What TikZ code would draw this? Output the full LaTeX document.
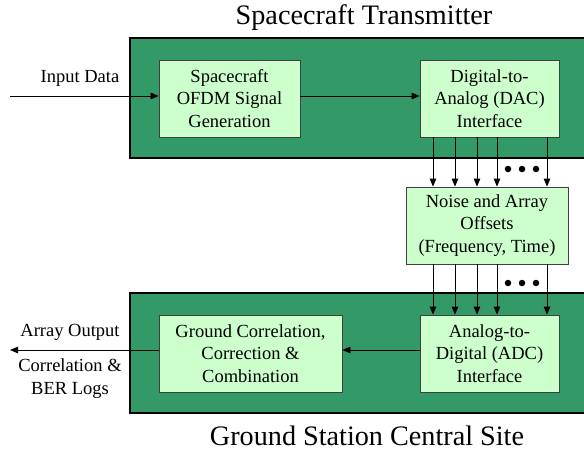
\documentclass[tikz,border=0pt]{standalone}
\usepackage{fontspec}
\setmainfont{Liberation Serif}
\usetikzlibrary{arrows.meta}
\definecolor{darkgreen}{RGB}{51,153,102}
\definecolor{lightgreen}{RGB}{204,255,204}
\definecolor{boxedge}{RGB}{64,64,64}
\begin{document}
\begin{tikzpicture}[x=1pt,y=-1pt,
  panel/.style={draw=black,line width=2.4pt,fill=darkgreen},
  block/.style={draw=boxedge,line width=0.8pt,fill=lightgreen,inner sep=0pt,align=center,
    font=\fontsize{18.5}{22.5}\selectfont,minimum height=77pt},
  lbl/.style={align=center,font=\fontsize{18.5}{22.5}\selectfont,inner sep=0pt},
  ttl/.style={font=\fontsize{28.2}{30}\selectfont,inner sep=0pt},
  arr/.style={-{Triangle[length=8pt,width=6.5pt]},line width=0.8pt},
  dot/.style={fill=black,circle,inner sep=0pt,minimum size=6.5pt}]
\useasboundingbox (0,0) rectangle (584,451);
% panels
\path[panel] (130,38) rectangle (592,158);
\path[panel] (130,293) rectangle (592,413);
% titles
\node[ttl] (t1) at (364,18) {Spacecraft Transmitter};
\node[ttl] (t2) at (367,436) {Ground Station Central Site};
% blocks
\node[block,minimum width=141pt] (ofdm) at (229.5,98.5) {Spacecraft\\OFDM Signal\\Generation};
\node[block,minimum width=139pt] (dac) at (489.5,98.5) {Digital-to-\\Analog (DAC)\\Interface};
\node[block,minimum width=162pt] (noise) at (487,225.5) {Noise and Array\\Offsets\\(Frequency, Time)};
\node[block,minimum width=183pt] (gcc) at (250.5,353.5) {Ground Correlation,\\Correction \&\\Combination};
\node[block,minimum width=139pt] (adc) at (489.5,353.5) {Analog-to-\\Digital (ADC)\\Interface};
% labels
\node[lbl] (inlbl) at (80,78) {Input Data};
\node[lbl] (outlbl) at (70,332) {Array Output};
\node[lbl] (loglbl) at (70,378.5) {Correlation \&\\BER Logs};
\coordinate (inp) at (10,96);
\coordinate (outp) at (10,350);
% horizontal connectors
\draw[arr] (inp) -- (inp -| ofdm.west);
\draw[arr] (ofdm.east |- inp) -- (dac.west |- inp);
\draw[arr] (adc.west |- outp) -- (gcc.east |- outp);
\draw[arr] (gcc.west |- outp) -- (outp);
% vertical bundles
\foreach \i/\x in {1/433,2/455,3/477,4/497,5/547}{
  \coordinate (c\i) at (\x,0);
  \draw[arr] (dac.south -| c\i) -- (noise.north -| c\i);
  \draw[arr] (noise.south -| c\i) -- (adc.north -| c\i);
}
\foreach \x in {508,522,536}{
  \node[dot] at (\x,169) {};
  \node[dot] at (\x,283) {};
}
\end{tikzpicture}
\end{document}
